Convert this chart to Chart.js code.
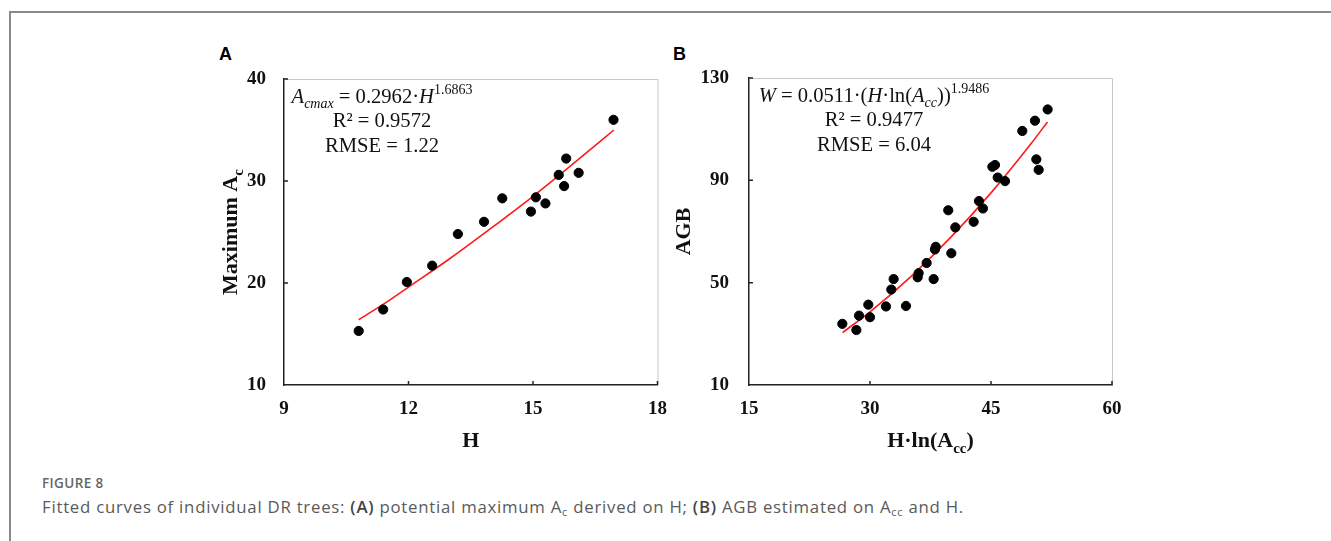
<!DOCTYPE html>
<html>
<head>
<meta charset="utf-8">
<script src="https://cdn.jsdelivr.net/npm/chart.js@4"></script>
<style>
  html, body { margin: 0; padding: 0; background: #fff; }
  body { width: 1331px; height: 541px; position: relative; overflow: hidden; }
  .frame { position: absolute; left: 9px; top: 11px; width: 1400px; height: 600px;
           border-top: 2px solid #8a8a8a; border-left: 2px solid #8a8a8a; }
  .panel { position: absolute; font: bold 18px "Liberation Sans", Arial, sans-serif; color: #000; }
  .box { position: absolute; width: 480px; height: 420px; top: 40px; }
  .fig { position: absolute; left: 42px; top: 474px; font: 600 13.5px "Open Sans", sans-serif; letter-spacing: 0.4px; color: #666; }
  .cap { position: absolute; left: 42px; top: 495px; font: 16.8px "Open Sans", sans-serif; letter-spacing: 0.75px; color: #5a5a5a; white-space: nowrap; }
  .cap b { font-weight: 600; color: #444; }
  .cap sub { font-size: 11px; vertical-align: -3px; }
</style>
</head>
<body>
<div class="frame"></div>
<div class="panel" style="left:219px; top:44px;">A</div>
<div class="panel" style="left:673px; top:44px;">B</div>
<div class="box" style="left:200px;"><canvas id="chartA"></canvas></div>
<div class="box" style="left:670px;"><canvas id="chartB"></canvas></div>
<div class="fig">FIGURE 8</div>
<div class="cap">Fitted curves of individual DR trees: <b>(A)</b> potential maximum A<sub>c</sub> derived on H; <b>(B)</b> AGB estimated on A<sub>cc</sub> and H.</div>

<script>
// Panel A: tree height vs maximum crown area
const heightA = [10.80, 11.39, 11.96, 12.57, 13.19, 13.82, 14.26, 14.95, 15.07, 15.30, 15.62, 15.80, 15.75, 16.10, 16.94];
const crownA = [15.3, 17.4, 20.1, 21.7, 24.8, 26.0, 28.3, 27.0, 28.4, 27.8, 30.6, 32.2, 29.5, 30.8, 36.0];
const fitHeightA = [10.8, 11.5, 12, 13, 14, 15, 16, 16.95];
const fitCrownA = [16.4, 18.2, 19.6, 22.4, 25.4, 28.5, 31.8, 35.0];
const xTicksA = [9, 12, 15, 18];
const yTicksA = [10, 20, 30, 40];

// Panel B: H*ln(Acc) vs AGB
const hlnB = [26.57, 28.31, 28.64, 29.79, 30.0, 31.98, 32.64, 32.93, 34.46, 35.91, 36.03, 37.02, 37.89, 38.05, 38.15,
              40.08, 39.70, 40.58, 42.85, 43.51, 44.0, 45.17, 45.50, 45.83, 46.74, 48.88, 50.45, 50.62, 50.91, 52.02];
const agbB = [33.9, 31.5, 37.1, 41.4, 36.5, 40.7, 47.3, 51.4, 40.9, 52.1, 53.7, 57.7, 51.4, 63.0, 64.0,
              61.5, 78.3, 71.6, 73.8, 81.9, 79.0, 95.3, 96.0, 91.1, 89.7, 109.3, 113.3, 98.2, 94.1, 117.7];
const fitHlnB = [26.6, 30, 35, 40, 45, 50, 52];
const fitAgbB = [30.5, 38.6, 52.2, 67.7, 85.1, 104.5, 112.8];
const xTicksB = [15, 30, 45, 60];
const yTicksB = [10, 50, 90, 130];

const SERIF = '"Liberation Serif", "Times New Roman", serif';

function fontFor(p, size) {
  const s = (p.sub || p.sup) ? Math.round(size * 0.68) : size;
  return (p.i ? 'italic ' : '') + (p.b ? 'bold ' : '') + s + 'px ' + SERIF;
}

// draw a line made of runs (italic / sub / sup), centred on cx
function drawRich(ctx, parts, cx, y, size) {
  let w = 0;
  parts.forEach(p => { ctx.font = fontFor(p, size); p.w = ctx.measureText(p.t).width; w += p.w; });
  let x = cx - w / 2;
  parts.forEach(p => {
    ctx.font = fontFor(p, size);
    const dy = p.sub ? size * 0.28 : (p.sup ? -size * 0.42 : 0);
    ctx.fillText(p.t, x, y + dy);
    x += p.w;
  });
}

const figPlugin = {
  id: 'figText',
  afterDraw(chart, args, opts) {
    const ctx = chart.ctx;
    const a = chart.chartArea;
    const xs = chart.scales.x, ys = chart.scales.y;
    ctx.save();
    // light frame on top and right
    ctx.strokeStyle = '#c8c8c8';
    ctx.lineWidth = 1;
    ctx.beginPath();
    ctx.moveTo(a.left, a.top + 0.5); ctx.lineTo(a.right + 0.5, a.top + 0.5);
    ctx.lineTo(a.right + 0.5, a.bottom);
    ctx.stroke();
    // inward tick marks
    ctx.strokeStyle = '#222';
    ctx.lineWidth = 1.5;
    ctx.beginPath();
    opts.yTicks.slice(1).forEach(v => {
      const py = ys.getPixelForValue(v);
      ctx.moveTo(a.left, py); ctx.lineTo(a.left + 4, py);
    });
    opts.xTicks.slice(1).forEach(v => {
      const px = xs.getPixelForValue(v);
      ctx.moveTo(px, a.bottom); ctx.lineTo(px, a.bottom - 4);
    });
    ctx.stroke();

    ctx.fillStyle = '#111';
    ctx.textBaseline = 'alphabetic';
    // equation block
    const cx = a.left + opts.noteX;
    opts.note.forEach((line, i) => drawRich(ctx, line, cx, a.top + 23.5 + i * 24.5, 20.6));
    // axis titles
    drawRich(ctx, opts.xTitle, (a.left + a.right) / 2, a.bottom + 62, 22);
    ctx.translate(a.left + opts.yTitleX, (a.top + a.bottom) / 2);
    ctx.rotate(-Math.PI / 2);
    drawRich(ctx, opts.yTitle, 0, 7, 22);
    ctx.restore();
  }
};

function makeChart(id, pts, fit, xr, yr, pad, yWidth, yPad, text) {
  new Chart(document.getElementById(id), {
    type: 'scatter',
    data: {
      datasets: [{
        data: pts,
        backgroundColor: '#000',
        borderColor: '#000',
        pointRadius: 4.6,
        pointHoverRadius: 4.6
      }, {
        type: 'line',
        data: fit,
        borderColor: '#ff1a1a',
        borderWidth: 1.6,
        pointRadius: 0,
        fill: false,
        cubicInterpolationMode: 'monotone'
      }]
    },
    options: {
      responsive: true,
      maintainAspectRatio: false,
      animation: false,
      layout: { padding: pad },
      plugins: { legend: { display: false }, tooltip: { enabled: false }, figText: text },
      scales: {
        x: {
          type: 'linear', min: xr[0], max: xr[xr.length - 1],
          afterBuildTicks: s => { s.ticks = xr.map(v => ({ value: v })); },
          afterFit: s => { s.height = 75; },
          grid: { display: false, drawTicks: false },
          border: { display: true, color: '#222', width: 1.5 },
          ticks: { color: '#111', padding: 13, font: { family: SERIF, weight: 'bold', size: 19 } }
        },
        y: {
          type: 'linear', min: yr[0], max: yr[yr.length - 1],
          afterBuildTicks: s => { s.ticks = yr.map(v => ({ value: v })); },
          afterFit: s => { s.width = yWidth; },
          grid: { display: false, drawTicks: false },
          border: { display: true, color: '#222', width: 1.5 },
          ticks: { color: '#111', padding: yPad, font: { family: SERIF, weight: 'bold', size: 19 } }
        }
      }
    },
    plugins: [figPlugin]
  });
}

makeChart('chartA',
  heightA.map((v, i) => ({ x: v, y: crownA[i] })),
  fitHeightA.map((v, i) => ({ x: v, y: fitCrownA[i] })),
  xTicksA, yTicksA, { left: 0, top: 39, right: 22, bottom: 0 }, 84, 18,
  {
    xTicks: xTicksA, yTicks: yTicksA, noteX: 98, yTitleX: -54,
    note: [
      [{ t: 'A', i: 1 }, { t: 'cmax', i: 1, sub: 1 }, { t: ' = 0.2962\u00b7' }, { t: 'H', i: 1 }, { t: '1.6863', sup: 1 }],
      [{ t: 'R\u00b2 = 0.9572' }],
      [{ t: 'RMSE = 1.22' }]
    ],
    xTitle: [{ t: 'H', b: 1 }],
    yTitle: [{ t: 'Maximum A', b: 1 }, { t: 'c', b: 1, sub: 1 }]
  });

makeChart('chartB',
  hlnB.map((v, i) => ({ x: v, y: agbB[i] })),
  fitHlnB.map((v, i) => ({ x: v, y: fitAgbB[i] })),
  xTicksB, yTicksB, { left: 0, top: 38, right: 38, bottom: 0 }, 79, 20,
  {
    xTicks: xTicksB, yTicks: yTicksB, noteX: 125, yTitleX: -66,
    note: [
      [{ t: 'W', i: 1 }, { t: ' = 0.0511\u00b7(' }, { t: 'H', i: 1 }, { t: '\u00b7ln(' }, { t: 'A', i: 1 }, { t: 'cc', i: 1, sub: 1 }, { t: '))' }, { t: '1.9486', sup: 1 }],
      [{ t: 'R\u00b2 = 0.9477' }],
      [{ t: 'RMSE = 6.04' }]
    ],
    xTitle: [{ t: 'H\u00b7ln(A', b: 1 }, { t: 'cc', b: 1, sub: 1 }, { t: ')', b: 1 }],
    yTitle: [{ t: 'AGB', b: 1 }]
  });
</script>
</body>
</html>
